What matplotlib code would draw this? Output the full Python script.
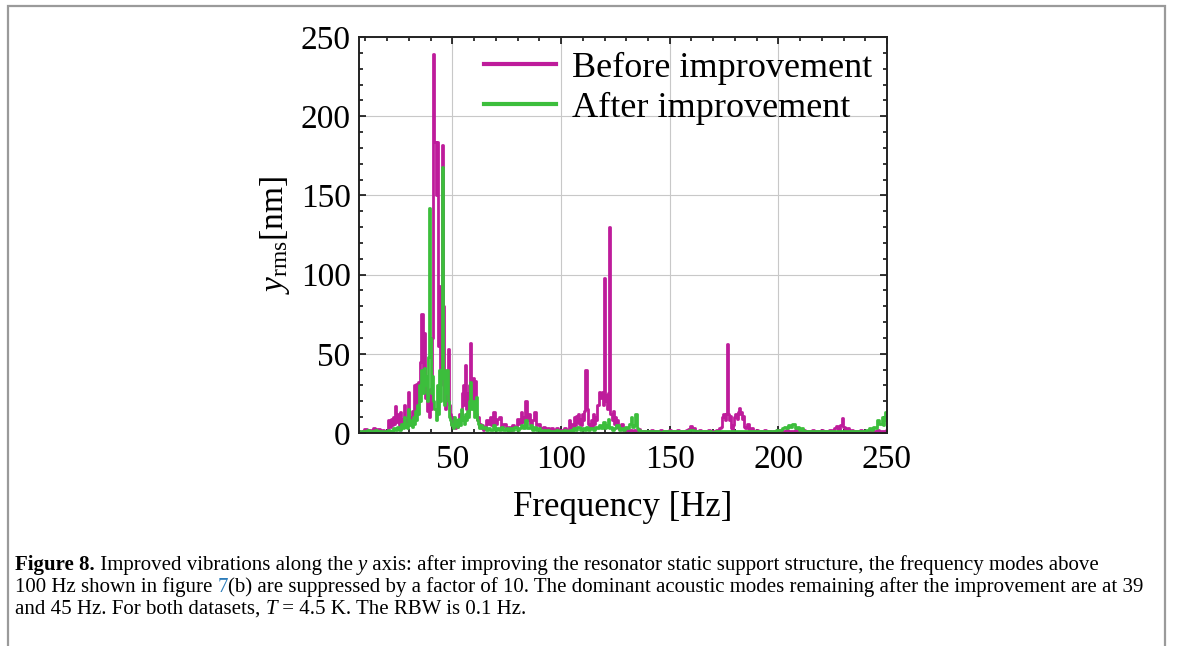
import numpy as np
import matplotlib
matplotlib.use("Agg")
import matplotlib.pyplot as plt
from matplotlib.patches import Rectangle
from matplotlib.ticker import MultipleLocator

plt.rcParams['font.family'] = ['Liberation Serif', 'DejaVu Serif']
plt.rcParams['mathtext.fontset'] = 'custom'
plt.rcParams['mathtext.rm'] = 'Liberation Serif'
plt.rcParams['mathtext.it'] = 'Liberation Serif:italic'
plt.rcParams['mathtext.bf'] = 'Liberation Serif:bold'

# --- data (frequency in Hz, y_rms in nm) ---
freq_before = [7, 8, 9, 10, 11, 12, 13, 14, 15, 16, 17, 18, 19, 20,
               21, 21.5, 22, 22.5, 23, 23.5, 24, 24.5, 25, 25.5, 26, 26.5, 27, 27.5, 28, 28.5,
               29, 29.5, 30, 30.5, 31, 31.5, 32, 32.5, 33, 33.5, 34, 34.5, 35, 35.5, 36, 36.5,
               37, 37.5, 38, 38.5, 39, 39.5, 40, 40.5, 41, 41.5, 42, 42.5, 43, 43.5, 44, 44.5,
               45, 45.5, 46, 46.5, 47, 47.5, 48, 48.5, 49, 49.5, 50, 50.5, 51, 51.5, 52, 52.5,
               53, 53.5, 54, 54.5, 55, 55.5, 56, 56.5, 57, 57.5, 58, 58.5, 59, 59.5, 60, 60.5,
               61, 61.5, 62, 62.5, 63, 63.5, 64, 64.5, 65,
               66, 67, 67.5, 68, 69, 70, 71, 72, 73, 74, 75, 76, 77, 78, 79, 80, 81, 82, 82.5,
               83, 84, 84.5, 85, 86, 87, 88, 89, 90, 91, 92, 93, 94, 95, 96, 97, 98, 99, 100,
               101, 102, 103, 104, 104.5, 105, 105.5, 106, 106.5, 107, 107.5, 108, 108.5, 109,
               109.5, 110, 110.5, 111, 111.5, 112, 112.5, 113, 113.5, 114, 114.5, 115, 115.5,
               116, 116.5, 117, 117.5, 118, 118.5, 119, 119.5, 120, 120.5, 121, 121.5, 122,
               122.5, 123, 123.5, 124, 124.5, 125, 125.5, 126, 126.5, 127, 128, 129, 130, 131,
               132, 133, 134, 135, 136, 137, 138, 139, 140, 141, 142, 143, 144, 145, 146, 147,
               148, 149, 150, 151, 152, 153, 154, 155, 156, 157, 158, 159, 160, 160.5, 161, 162,
               163, 164, 165, 166, 167, 168, 169, 170, 171, 172, 173, 174, 174.5, 175, 175.5,
               176, 176.5, 177, 177.5, 178, 178.5, 179, 179.5, 180, 180.5, 181, 181.5, 182,
               182.5, 183, 183.5, 184, 184.5, 185, 186, 187, 188, 189, 190, 191, 192, 193, 194,
               195, 196, 197, 198, 199, 200, 201, 202, 203, 204, 205, 206, 207, 208, 209, 210,
               211, 212, 213, 214, 215, 216, 217, 218, 219, 220, 221, 222, 223, 224, 225, 226,
               227, 228, 229, 229.5, 230, 231, 232, 233, 234, 235, 236, 237, 238, 239, 240, 241,
               242, 243, 244, 245, 246, 247, 248, 249, 250]
yrms_before = [1.5, 0.5, 1.5, 2.5, 1, 2, 1, 3, 1, 2.5, 1, 2, 0.5, 1.5,
               8, 4, 9, 5, 10, 6, 17, 7, 12, 5, 13, 4, 9, 4, 18, 6,
               8, 5, 26, 10, 8, 14, 12, 30, 14, 31, 18, 32, 20, 45, 75, 30,
               63, 22, 35, 14, 22, 10, 28, 15, 60, 239, 184, 150, 184, 55, 93, 30,
               60, 182, 80, 20, 15, 30, 53, 18, 12, 6, 10, 4, 7, 3, 8, 4,
               6, 12, 8, 25, 30, 18, 43, 15, 25, 12, 30, 57, 20, 35, 15, 33,
               12, 8, 10, 4, 6, 3, 5, 2, 4,
               8, 6, 10, 5, 13, 6, 9, 10, 4, 6, 3, 4, 2, 5, 4, 9, 6, 13, 7,
               10, 20, 8, 12, 6, 8, 13, 5, 6, 3, 4, 2, 3, 2, 3, 2, 3, 1.5, 2,
               1, 3, 2, 8, 3, 6, 4, 10, 5, 11, 7, 12, 6, 9,
               5, 12, 8, 14, 40, 15, 6, 5, 3, 8, 4, 12, 6,
               10, 8, 18, 26, 22, 24, 26, 18, 98, 20, 24, 15, 25,
               130, 12, 8, 14, 6, 10, 4, 8, 3, 4, 6, 2, 3, 1.5,
               2, 1, 2, 1, 2.5, 1, 1.5, 0.5, 1.5, 1, 2, 1, 1.5, 0.5, 2, 1,
               1.5, 1, 2, 1, 1.5, 0.5, 2, 1, 1.5, 1, 2, 2.5, 4.5, 2, 3, 1,
               1.5, 2, 1, 1.5, 1, 2, 1, 1.5, 1, 2, 3, 4, 10, 12, 8,
               12, 56, 12, 8, 11, 3, 2, 5, 10, 12, 9, 13, 16,
               12, 13, 9, 11, 4, 3, 6, 2, 3, 1, 2, 1, 1.5, 1, 2,
               1, 1.5, 0.5, 1.5, 1, 2, 1, 1.5, 1, 2, 1, 1.5, 1, 2, 1, 1.5,
               1, 2, 1, 1.5, 0.5, 2, 1, 1.5, 1, 2, 1, 1.5, 1, 2, 1.5, 3,
               4.5, 2, 5, 9.3, 4, 2, 3, 1, 2, 1, 1.5, 1, 2, 1, 1.5, 1,
               2, 1, 1.5, 1, 2, 1, 1.5, 1, 2]

freq_after = [7, 8, 9, 10, 11, 12, 13, 14, 15, 16, 17, 18, 19, 20, 21, 22, 23, 24, 25, 26,
              27, 27.5, 28, 28.5, 29, 29.5, 30, 30.5, 31, 31.5, 32, 32.5, 33, 33.5, 34, 34.5,
              35, 35.5, 36, 36.5, 37, 37.5, 38, 38.5, 39, 39.5, 40, 40.5, 41, 41.5, 42, 42.5,
              43, 43.5, 44, 44.5, 45, 45.5, 46, 46.5, 47, 47.5, 48, 48.5, 49, 49.5, 50, 50.5,
              51, 51.5, 52, 52.5, 53, 53.5, 54, 54.5, 55, 55.5, 56, 56.5, 57, 57.5, 58, 58.5,
              59, 59.5, 60, 60.5, 61, 61.5, 62, 62.5, 63, 64, 65, 66, 67, 68, 69, 70, 71, 72,
              73, 74, 75, 76, 77, 78, 79, 80, 81, 82, 83, 84, 85, 86, 87, 88, 89, 90, 91, 92,
              93, 94, 95, 96, 97, 98, 99, 100, 101, 102, 103, 104, 105, 106, 107, 108, 109, 110,
              111, 112, 113, 114, 115, 116, 117, 118, 119, 120, 120.5, 121, 121.5, 122, 122.5,
              123, 124, 125, 126, 127, 128, 129, 130, 131, 132, 132.5, 133, 134, 134.5, 135,
              136, 137, 138, 139, 140, 142, 144, 146, 148, 150, 152, 154, 156, 158, 160, 162,
              164, 166, 168, 170, 172, 174, 176, 178, 180, 182, 184, 186, 188, 190, 192, 194,
              196, 198, 200, 201, 202, 203, 204, 205, 206, 207, 208, 209, 210, 211, 212, 214,
              216, 218, 220, 222, 224, 226, 228, 230, 232, 234, 236, 238, 240, 241, 242, 243,
              244, 245, 246, 247, 248, 248.5, 249, 249.5, 250]
yrms_after = [1, 0.5, 1.5, 1, 2, 0.5, 1.5, 1, 2, 1, 1.5, 0.5, 1, 1.5, 2, 1, 3, 2, 4, 2,
              6, 3, 10, 4, 6, 3, 15, 5, 8, 4, 10, 6, 14, 8, 18, 12,
              30, 20, 40, 25, 41, 30, 36, 20, 48, 142, 60, 25, 36, 20, 15, 8,
              30, 12, 40, 20, 35, 168, 40, 18, 25, 40, 20, 10, 8, 5, 6, 3,
              10, 5, 8, 4, 9, 5, 15, 8, 10, 6, 12, 8, 14, 10, 20, 32,
              15, 20, 10, 15, 23, 8, 6, 3, 5, 3, 4, 2, 3, 2, 5, 2, 3, 2,
              4, 2, 3, 1.5, 3, 2, 4, 2, 3, 5, 3, 8, 3, 5, 2, 4, 2, 3, 1.5, 2,
              1, 2, 1, 1.5, 1, 2, 1, 1.5, 1, 2, 1, 2, 1.5, 3, 2, 4, 2, 3,
              2, 4, 2, 3, 2, 4, 3, 5, 3, 7, 3, 5, 4, 9, 3,
              4, 2, 3, 5, 2, 3, 2, 4, 3, 6, 10, 4, 5, 12, 3,
              2, 1, 1.5, 1, 1.5, 1, 1.5, 0.5, 1.5, 1, 1.5, 1, 1.5, 1, 2, 1,
              1.5, 1, 1.5, 0.5, 1.5, 1, 1.5, 1, 1.5, 1, 1.5, 1, 1.5, 1, 1.5, 1,
              1.5, 1, 2, 2, 3, 4, 3, 5, 4, 6, 3, 4, 2, 3, 1.5, 1,
              1.5, 1, 1.5, 1, 1.5, 1, 1.5, 1, 1.5, 1, 1.5, 1, 1.5, 2, 3, 2,
              4, 3, 8, 6, 10, 5, 9, 13, 8]

labels = ['Before improvement', 'After improvement']
colors = ['#BE1C9B', '#3CBE3C']

caption_lines = [
    [("Figure 8.", 'bold', 'normal', 'k'),
     (" Improved vibrations along the ", 'normal', 'normal', 'k'),
     ("y", 'normal', 'italic', 'k'),
     (" axis: after improving the resonator static support structure, the frequency modes above", 'normal', 'normal', 'k')],
    [("100 Hz shown in figure ", 'normal', 'normal', 'k'),
     ("7", 'normal', 'normal', '#2B7BB9'),
     ("(b) are suppressed by a factor of 10. The dominant acoustic modes remaining after the improvement are at 39", 'normal', 'normal', 'k')],
    [("and 45 Hz. For both datasets, ", 'normal', 'normal', 'k'),
     ("T", 'normal', 'italic', 'k'),
     (" = 4.5 K. The RBW is 0.1 Hz.", 'normal', 'normal', 'k')],
]

fig = plt.figure(figsize=(11.82, 6.46), dpi=100)
ax = fig.add_axes([0.3037, 0.3297, 0.4467, 0.6130])

ax.plot(freq_before, yrms_before, color=colors[0], lw=2.0, drawstyle='steps-mid',
        label=labels[0])
ax.plot(freq_after, yrms_after, color=colors[1], lw=2.0, drawstyle='steps-mid',
        label=labels[1])

ax.set_xlim(7, 250)
ax.set_ylim(0, 250)
ax.xaxis.set_major_locator(MultipleLocator(50))
ax.xaxis.set_minor_locator(MultipleLocator(10))
ax.yaxis.set_major_locator(MultipleLocator(50))
ax.yaxis.set_minor_locator(MultipleLocator(10))
ax.grid(True, which='major', color='#c8c8c8', lw=0.8)
ax.set_axisbelow(True)
ax.tick_params(which='both', direction='in', top=True, right=True, labelsize=24, width=1.1)
ax.tick_params(which='major', length=5, pad=8)
ax.tick_params(which='minor', length=3)
ax.tick_params(axis='y', which='major', pad=6)
for sp in ax.spines.values():
    sp.set_linewidth(1.4)
    sp.set_color('#222222')

ax.set_xlabel('Frequency [Hz]', fontsize=25, labelpad=12)
ax.set_ylabel(r'$y_{\mathrm{rms}}$[nm]', fontsize=24, labelpad=6)

leg = ax.legend(loc='upper right', frameon=False, fontsize=26, handlelength=2.0,
                handletextpad=0.45, labelspacing=0.18, borderaxespad=0.1, borderpad=0.3)
for h in leg.get_lines():
    h.set_linewidth(3)

# caption below the plot, pieces chained left to right
y0 = 1 - 575 / 646
for i, line in enumerate(caption_lines):
    prev = None
    for text, weight, style, col in line:
        if prev is None:
            prev = fig.text(15 / 1182, y0 - i * 22 / 646, text, fontsize=15,
                            fontweight=weight, fontstyle=style, color=col,
                            ha='left', va='bottom')
        else:
            prev = ax.annotate(text, xy=(1, 0), xycoords=prev, fontsize=15,
                               fontweight=weight, fontstyle=style, color=col,
                               ha='left', va='bottom', annotation_clip=False)

# grey frame around figure
fig.patches.append(Rectangle((8 / 1182, -0.01), (1165 - 8) / 1182, 1.01 - 6 / 646,
                             transform=fig.transFigure, fill=False,
                             edgecolor='#9a9a9a', lw=1.6))

fig.savefig('out.png', dpi=100)
